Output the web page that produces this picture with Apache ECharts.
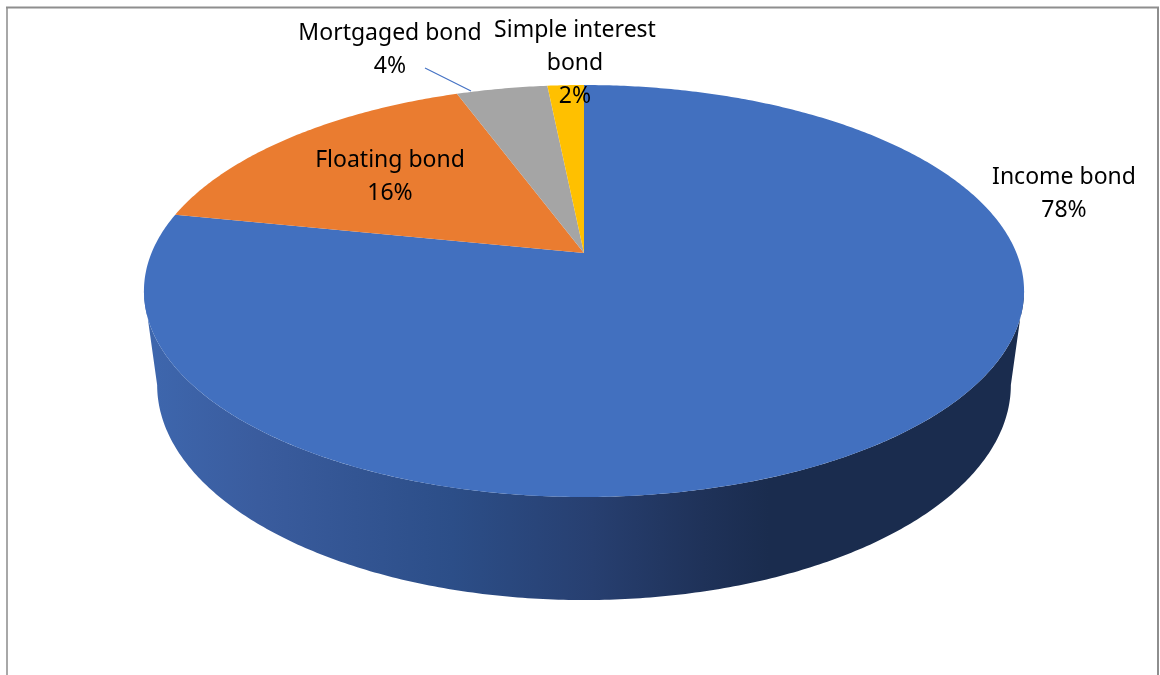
<!DOCTYPE html>
<html>
<head>
<meta charset="utf-8">
<style>html,body{margin:0;padding:0;background:#fff}#c{width:1160px;height:675px}</style>
<script src="https://cdn.jsdelivr.net/npm/echarts@6/dist/echarts.min.js"></script>
</head>
<body>
<div id="c"></div>
<script>
const categories = ['Income bond', 'Floating bond', 'Mortgaged bond', 'Simple interest\nbond'];
const shares = [78.2, 16.2, 4, 1.6];
const sliceColors = ['#4270BF', '#EA7C30', '#A5A5A5', '#FFC000'];
const labelAnchors = [[1064, 194], [390, 176.5], [390, 49.5], [575, 63.5]];

// Layout of the tilted disc (Excel-style 3D pie, perspective projection)
const apex = [584, 253], radius = 432.5, persp = 0.1845, slopeY = 152.3;
const topMidY = 291, botMidY = 385, botScaleX = 0.97, botScaleY = 1.044;
const total = shares.reduce((a, b) => a + b, 0);
const project = (ang, bottom) => {
  const s = Math.sin(ang), t = Math.cos(ang), d = 1 + persp * t;
  const x = apex[0] + radius * s / d, y = (apex[1] - slopeY * t) / d;
  return bottom ? [apex[0] + botScaleX * (x - apex[0]), botMidY + botScaleY * (y - topMidY)] : [x, y];
};
const arc = (a0, a1, bottom) => {
  const n = Math.max(2, Math.ceil(Math.abs(a1 - a0) / 0.01)), pts = [];
  for (let i = 0; i <= n; i++) pts.push(project(a0 + (a1 - a0) * i / n, bottom));
  return pts;
};
const frontA = Math.acos(-persp), frontB = 2 * Math.PI - frontA;

const option = {
  animation: false,
  backgroundColor: '#fff',
  graphic: [
    { type: 'line', silent: true, shape: { x1: 7, y1: 7, x2: 7, y2: 675 }, style: { stroke: '#A8A8A8', lineWidth: 2 } },
    { type: 'polyline', silent: true, shape: { points: [[6, 7.5], [1158, 7.5], [1158, 675]] }, style: { stroke: '#8E8E8E', lineWidth: 2, fill: 'none' } },
    { type: 'line', silent: true, z: 10, shape: { x1: 425, y1: 68, x2: 471, y2: 91 }, style: { stroke: '#4472C4', lineWidth: 1.2 } }
  ],
  series: [{
    type: 'custom',
    coordinateSystem: 'none',
    data: shares.map((v, i) => ({ value: [v], name: categories[i] })),
    renderItem: (params, api) => {
      const i = params.dataIndex;
      const before = shares.slice(0, i).reduce((a, b) => a + b, 0);
      const a0 = before / total * 2 * Math.PI;
      const a1 = (before + api.value(0)) / total * 2 * Math.PI;
      const children = [];
      const w0 = Math.max(a0, frontA), w1 = Math.min(a1, frontB);
      if (w1 > w0) {
        children.push({
          type: 'polygon',
          shape: { points: arc(w0, w1, false).concat(arc(w1, w0, true)) },
          style: {
            fill: new echarts.graphic.LinearGradient(0, 0, 1, 0, [
              { offset: 0, color: '#3E67AE' },
              { offset: 0.13, color: '#3A5C9E' },
              { offset: 0.35, color: '#2C4E88' },
              { offset: 0.51, color: '#273F70' },
              { offset: 0.635, color: '#1F3259' },
              { offset: 0.71, color: '#1A2C4E' },
              { offset: 1, color: '#1A2C4E' }
            ])
          }
        });
      }
      children.push({
        type: 'polygon',
        shape: { points: [apex].concat(arc(a0, a1, false)) },
        style: { fill: sliceColors[i] }
      });
      children.push({
        type: 'text',
        z2: 100,
        style: {
          text: categories[i] + '\n' + Math.round(api.value(0)) + '%',
          x: labelAnchors[i][0],
          y: labelAnchors[i][1],
          align: 'center',
          verticalAlign: 'middle',
          lineHeight: 33,
          fontSize: 23,
          fontFamily: '"Noto Sans", sans-serif',
          fill: '#000'
        }
      });
      return { type: 'group', children };
    }
  }]
};
const chart = echarts.init(document.getElementById('c'), null, { renderer: 'canvas' });
chart.setOption(option);
</script>
</body>
</html>
